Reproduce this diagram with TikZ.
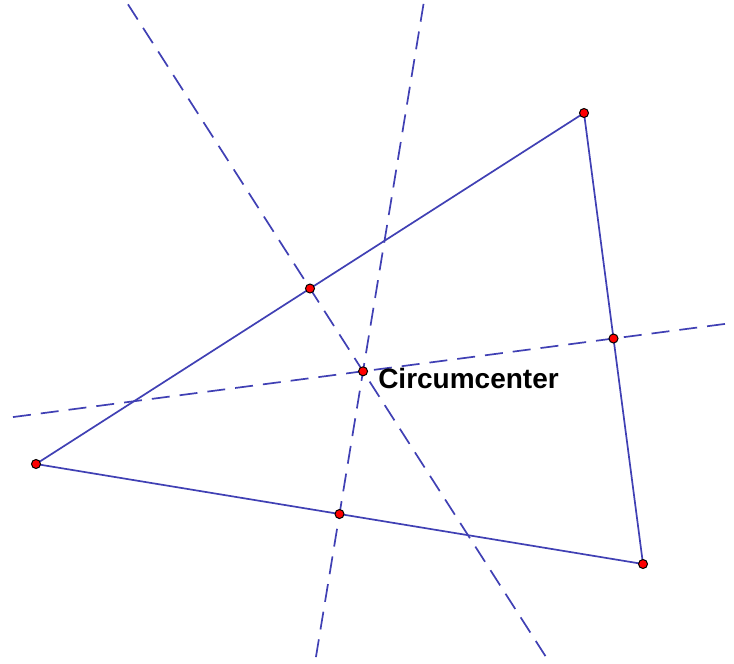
\documentclass[tikz,border=0pt]{standalone}
\usepackage{fontspec}
\setmainfont{Liberation Sans}
\usetikzlibrary{calc,positioning}
\definecolor{lineblue}{RGB}{64,64,180}

\begin{document}
\begin{tikzpicture}[
  x=1pt, y=-1pt,
  side/.style={draw=lineblue, line width=1.7pt},
  bisector/.style={side, dash pattern=on 18pt off 10pt},
  pt/.style={circle, draw=black, fill=red, inner sep=0pt, minimum size=9pt, line width=1pt},
  lbl/.style={font=\bfseries\fontsize{28}{30}\selectfont, inner sep=0pt, anchor=base west},
]
  \useasboundingbox[fill=white] (0,0) rectangle (734,664);
  \clip (0,0) rectangle (734,664);
  % triangle corners
  \coordinate (A) at (36,464);
  \coordinate (B) at (584,113);
  \coordinate (C) at (643,564);
  % side midpoints
  \coordinate (Mab) at ($(A)!0.5!(B)$);
  \coordinate (Mbc) at ($(B)!0.5!(C)$);
  \coordinate (Mac) at ($(A)!0.5!(C)$);
  % far ends of the perpendicular bisectors
  \coordinate (Pab1) at ($(Mab)!2.5!90:(B)$);
  \coordinate (Pab2) at ($(Mab)!2.5!-90:(B)$);
  \coordinate (Pbc1) at ($(Mbc)!0.508!90:(C)$);
  \coordinate (Pbc2) at ($(Mbc)!2.663!-90:(C)$);
  \coordinate (Pac1) at ($(Mac)!2.5!90:(C)$);
  \coordinate (Pac2) at ($(Mac)!2.5!-90:(C)$);
  \coordinate (O) at (intersection of Pab1--Pab2 and Pbc1--Pbc2);
  \draw[bisector] (Pab1) -- (Pab2);
  \draw[bisector] (Pbc2) -- (Pbc1);
  \draw[bisector] (Pac1) -- (Pac2);
  \draw[side] (A) -- (B) -- (C) -- cycle;
  % points
  \foreach \p in {A,B,C,Mab,Mbc,Mac,O}
    \node[pt] (dot\p) at (\p) {};
  \node[lbl] (cclabel) at ($(O)+(15,17)$) {Circumcenter};
\end{tikzpicture}
\end{document}
